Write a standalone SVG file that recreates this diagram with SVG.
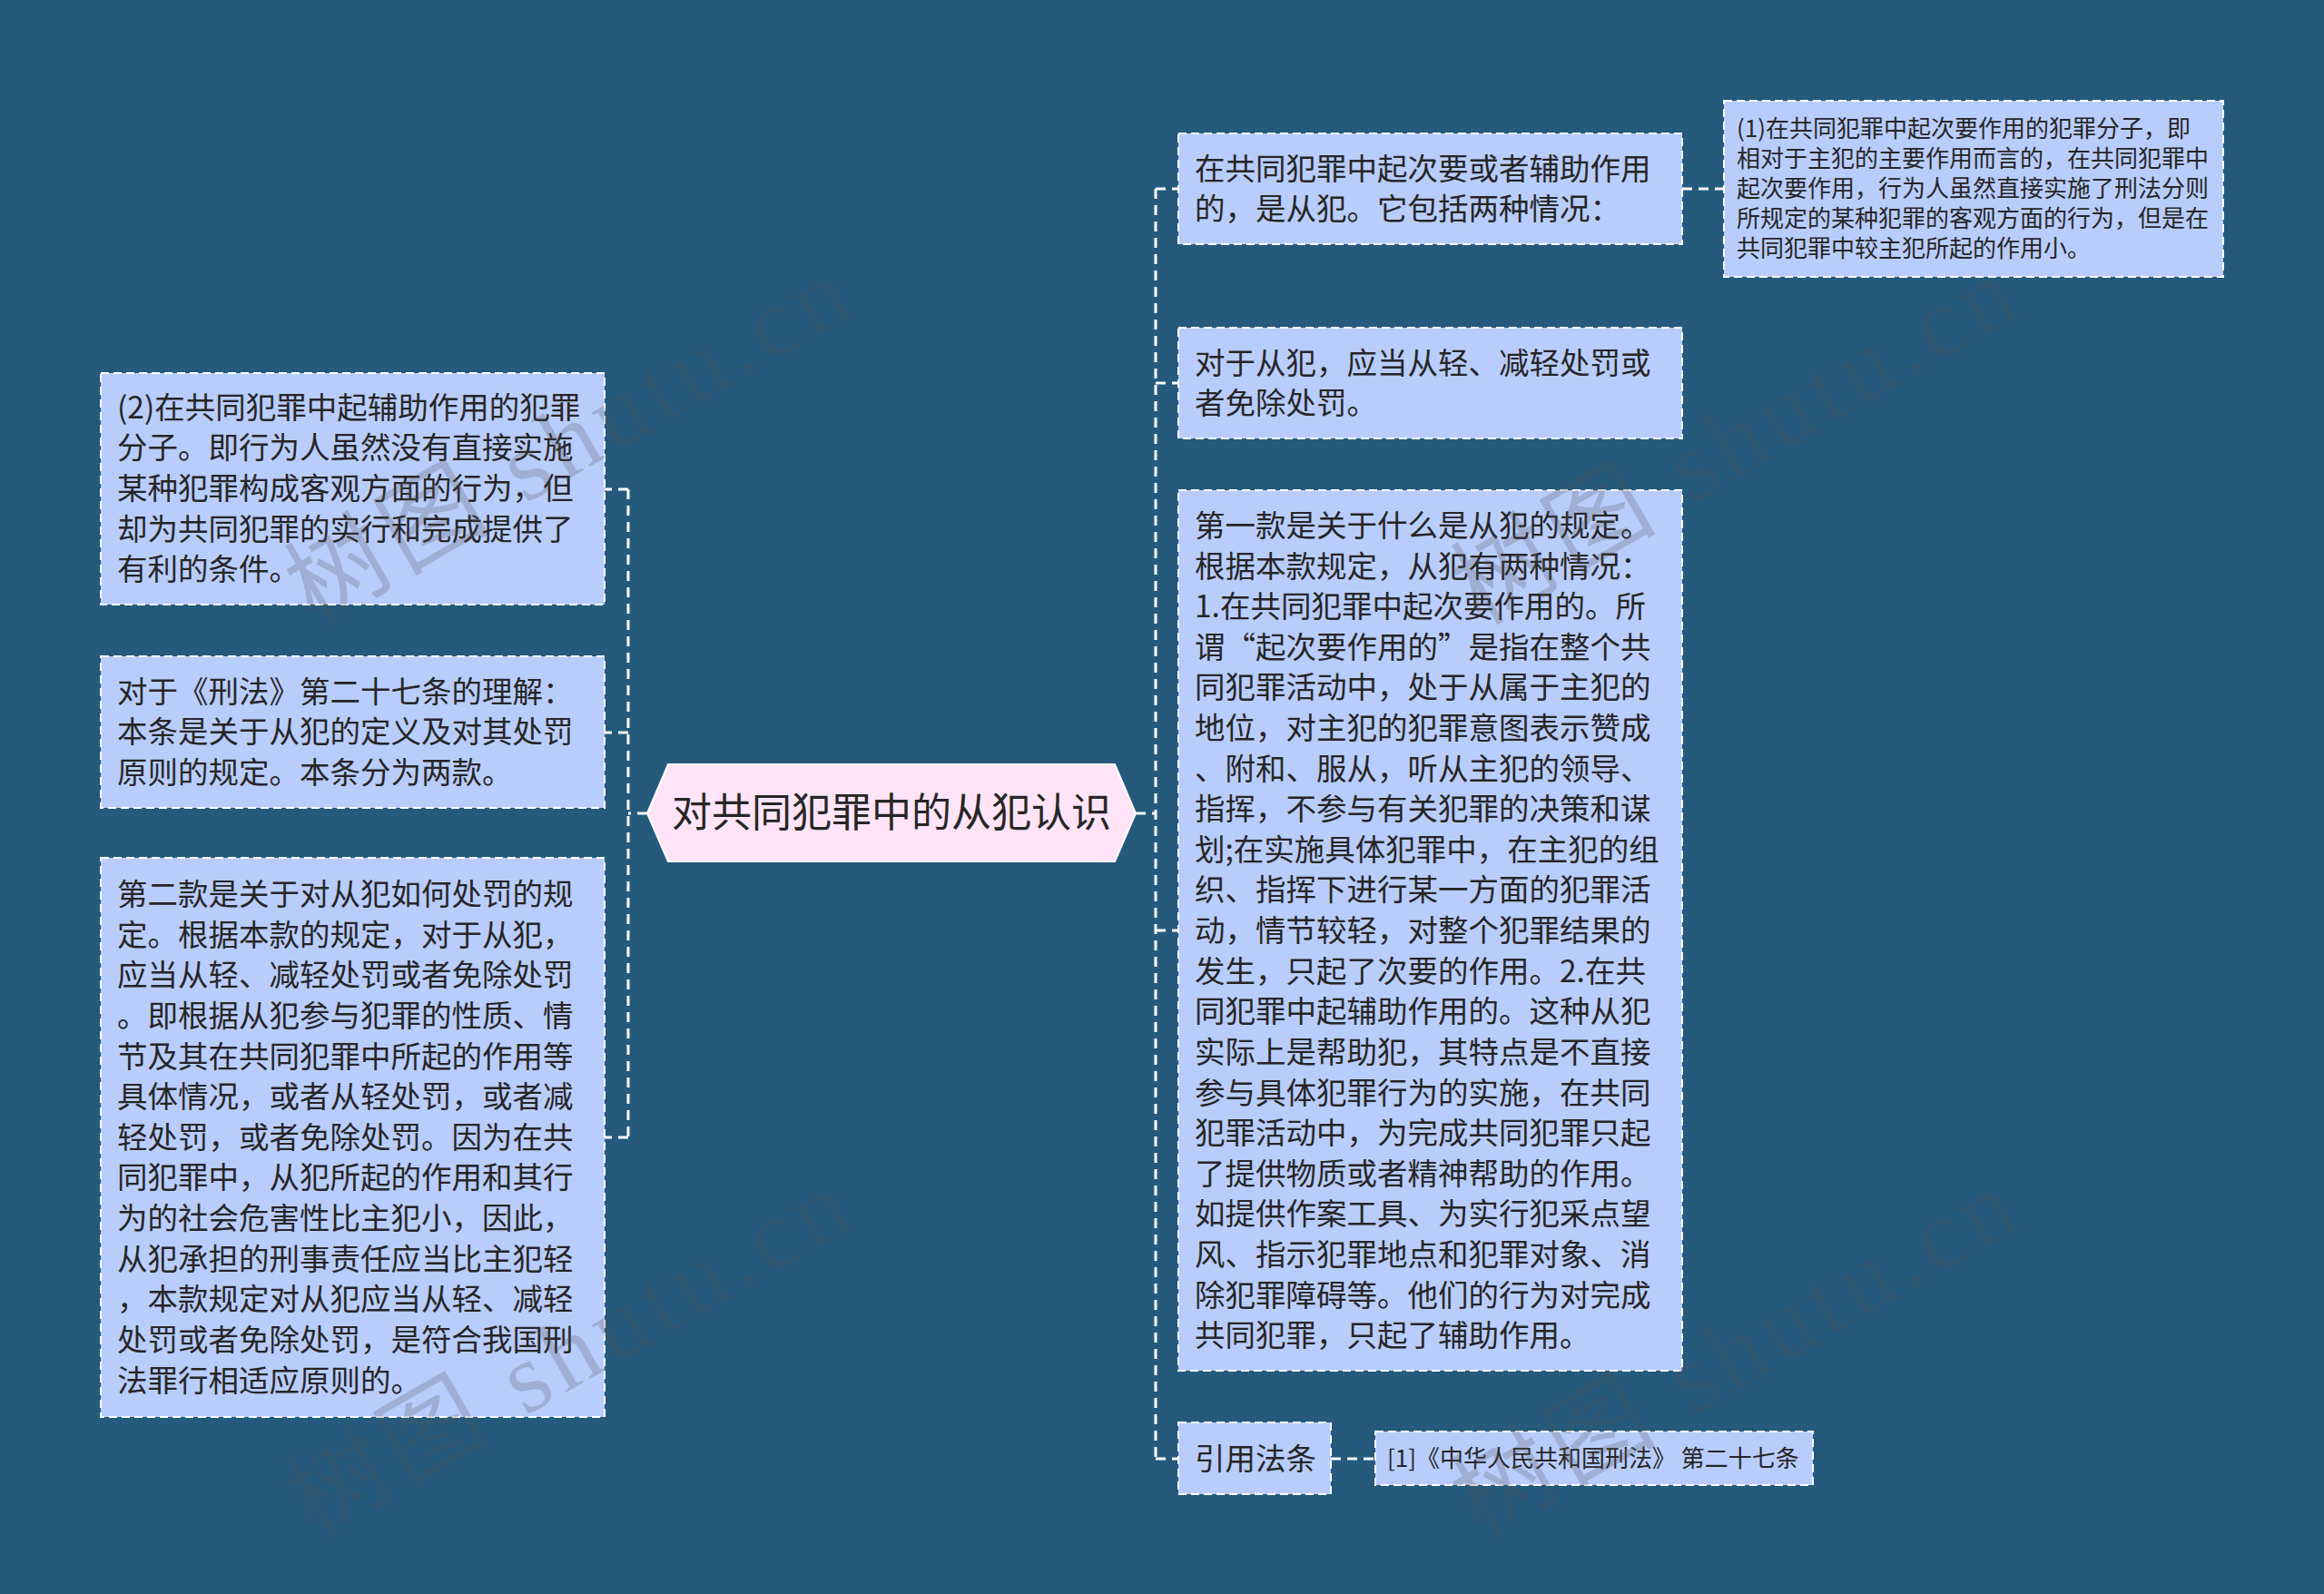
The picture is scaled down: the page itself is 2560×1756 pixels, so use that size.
<svg xmlns="http://www.w3.org/2000/svg" width="2560" height="1756" viewBox="0 0 2560 1756">
<style>
.bg{fill:#255a7c}
.box{fill:#b9cdfc;stroke:#ffffff;stroke-width:2;stroke-dasharray:9 5}
.t{font-family:"Noto Sans CJK SC","Noto Sans",sans-serif;font-size:33.5px;fill:#262626}
.ts{font-family:"Noto Sans CJK SC","Noto Sans",sans-serif;font-size:26px;fill:#262626}
.tc{font-family:"Noto Sans CJK SC","Noto Sans",sans-serif;font-size:44px;fill:#262626}
.ln{fill:none;stroke:#ffffff;stroke-width:3;stroke-dasharray:11 7}
.wm{font-family:"Liberation Serif","Noto Sans CJK SC",serif;font-size:110px;fill:#555;fill-opacity:0.25}
</style>
<rect class="bg" x="0" y="0" width="2560" height="1756"/>

<g id="connectors">
<path class="ln" d="M713 896 H692 M692 539 V1253 M692 539 H666 M692 807 H666 M692 1253 H666"/>
<path class="ln" d="M1251 896 H1273 M1273 208 V1607 M1273 208 H1298 M1273 422 H1298 M1273 1025 H1298 M1273 1607 H1298"/>
<path class="ln" d="M1853 208 H1899 M1466 1607 H1515"/>
</g>

<g id="center">
<polygon points="713,896 736,842 1228,842 1251,896 1228,949 736,949" fill="#ffe4f8" stroke="#ffffff" stroke-width="2"/>
<text class="tc" x="982" y="911" text-anchor="middle">对共同犯罪中的从犯认识</text>
</g>

<g id="L1">
<rect class="box" x="111" y="411" width="555" height="255"/>
<text class="t"><tspan x="129" y="461">(2)在共同犯罪中起辅助作用的犯罪</tspan><tspan x="129" y="505">分子。即行为人虽然没有直接实施</tspan><tspan x="129" y="550">某种犯罪构成客观方面的行为，但</tspan><tspan x="129" y="595">却为共同犯罪的实行和完成提供了</tspan><tspan x="129" y="639">有利的条件。</tspan></text>
</g>

<g id="L2">
<rect class="box" x="111" y="723" width="555" height="167"/>
<text class="t"><tspan x="129" y="774">对于《刑法》第二十七条的理解：</tspan><tspan x="129" y="818">本条是关于从犯的定义及对其处罚</tspan><tspan x="129" y="863">原则的规定。本条分为两款。</tspan></text>
</g>

<g id="L3">
<rect class="box" x="111" y="945" width="555" height="616"/>
<text class="t"><tspan x="129" y="997">第二款是关于对从犯如何处罚的规</tspan><tspan x="129" y="1042">定。根据本款的规定，对于从犯，</tspan><tspan x="129" y="1086">应当从轻、减轻处罚或者免除处罚</tspan><tspan x="129" y="1131">。即根据从犯参与犯罪的性质、情</tspan><tspan x="129" y="1176">节及其在共同犯罪中所起的作用等</tspan><tspan x="129" y="1220">具体情况，或者从轻处罚，或者减</tspan><tspan x="129" y="1265">轻处罚，或者免除处罚。因为在共</tspan><tspan x="129" y="1309">同犯罪中，从犯所起的作用和其行</tspan><tspan x="129" y="1354">为的社会危害性比主犯小，因此，</tspan><tspan x="129" y="1399">从犯承担的刑事责任应当比主犯轻</tspan><tspan x="129" y="1443">，本款规定对从犯应当从轻、减轻</tspan><tspan x="129" y="1488">处罚或者免除处罚，是符合我国刑</tspan><tspan x="129" y="1533">法罪行相适应原则的。</tspan></text>
</g>

<g id="R1">
<rect class="box" x="1298" y="147" width="555" height="122"/>
<text class="t"><tspan x="1316" y="198">在共同犯罪中起次要或者辅助作用</tspan><tspan x="1316" y="242">的，是从犯。它包括两种情况：</tspan></text>
</g>

<g id="R1a">
<rect class="box" x="1899" y="111" width="550" height="194"/>
<text class="ts"><tspan x="1913" y="151">(1)在共同犯罪中起次要作用的犯罪分子，即</tspan><tspan x="1913" y="184">相对于主犯的主要作用而言的，在共同犯罪中</tspan><tspan x="1913" y="217">起次要作用，行为人虽然直接实施了刑法分则</tspan><tspan x="1913" y="250">所规定的某种犯罪的客观方面的行为，但是在</tspan><tspan x="1913" y="283">共同犯罪中较主犯所起的作用小。</tspan></text>
</g>

<g id="R2">
<rect class="box" x="1298" y="361" width="555" height="122"/>
<text class="t"><tspan x="1316" y="412">对于从犯，应当从轻、减轻处罚或</tspan><tspan x="1316" y="456">者免除处罚。</tspan></text>
</g>

<g id="R3">
<rect class="box" x="1298" y="540" width="555" height="970"/>
<text class="t"><tspan x="1316" y="591">第一款是关于什么是从犯的规定。</tspan><tspan x="1316" y="636">根据本款规定，从犯有两种情况：</tspan><tspan x="1316" y="680">1.在共同犯罪中起次要作用的。所</tspan><tspan x="1316" y="725">谓“起次要作用的”是指在整个共</tspan><tspan x="1316" y="769">同犯罪活动中，处于从属于主犯的</tspan><tspan x="1316" y="814">地位，对主犯的犯罪意图表示赞成</tspan><tspan x="1316" y="859">、附和、服从，听从主犯的领导、</tspan><tspan x="1316" y="903">指挥，不参与有关犯罪的决策和谋</tspan><tspan x="1316" y="948">划;在实施具体犯罪中，在主犯的组</tspan><tspan x="1316" y="992">织、指挥下进行某一方面的犯罪活</tspan><tspan x="1316" y="1037">动，情节较轻，对整个犯罪结果的</tspan><tspan x="1316" y="1082">发生，只起了次要的作用。2.在共</tspan><tspan x="1316" y="1126">同犯罪中起辅助作用的。这种从犯</tspan><tspan x="1316" y="1171">实际上是帮助犯，其特点是不直接</tspan><tspan x="1316" y="1216">参与具体犯罪行为的实施，在共同</tspan><tspan x="1316" y="1260">犯罪活动中，为完成共同犯罪只起</tspan><tspan x="1316" y="1305">了提供物质或者精神帮助的作用。</tspan><tspan x="1316" y="1349">如提供作案工具、为实行犯采点望</tspan><tspan x="1316" y="1394">风、指示犯罪地点和犯罪对象、消</tspan><tspan x="1316" y="1439">除犯罪障碍等。他们的行为对完成</tspan><tspan x="1316" y="1483">共同犯罪，只起了辅助作用。</tspan></text>
</g>

<g id="R4">
<rect class="box" x="1298" y="1567" width="168" height="79"/>
<text class="t" x="1316" y="1619">引用法条</text>
</g>

<g id="R4a">
<rect class="box" x="1515" y="1577" width="482" height="59"/>
<text class="ts" x="1528" y="1616">[1]《中华人民共和国刑法》 第二十七条</text>
</g>

<g id="watermarks">
<text class="wm" transform="translate(345,690) rotate(-30)" textLength="690" lengthAdjust="spacing">树图 shutu.cn</text>
<text class="wm" transform="translate(1630,690) rotate(-30)" textLength="690" lengthAdjust="spacing">树图 shutu.cn</text>
<text class="wm" transform="translate(345,1695) rotate(-30)" textLength="690" lengthAdjust="spacing">树图 shutu.cn</text>
<text class="wm" transform="translate(1630,1695) rotate(-30)" textLength="690" lengthAdjust="spacing">树图 shutu.cn</text>
</g>
</svg>
